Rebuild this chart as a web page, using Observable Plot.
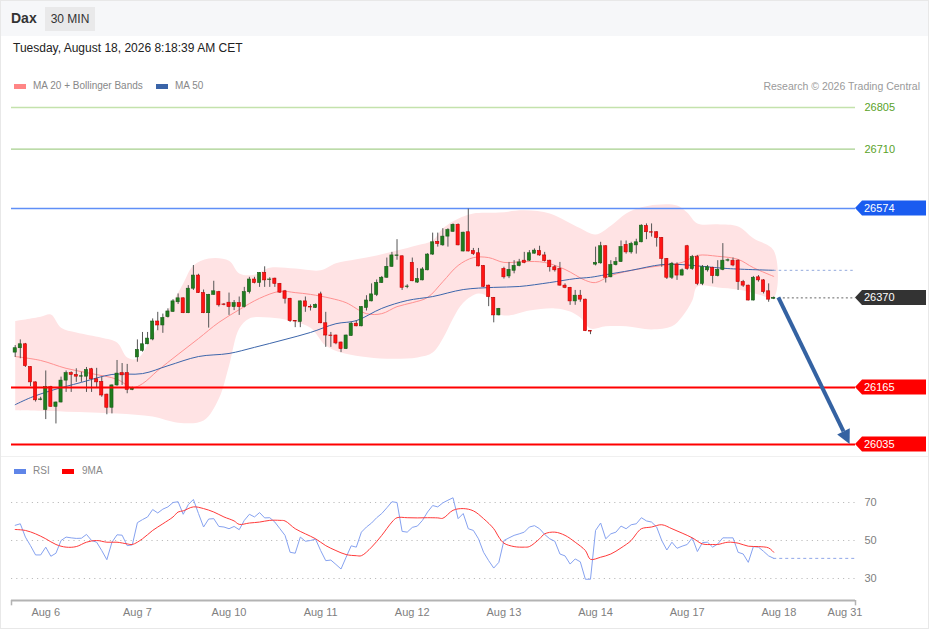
<!DOCTYPE html>
<html><head><meta charset="utf-8">
<script src="https://cdn.jsdelivr.net/npm/d3@7"></script>
<script src="https://cdn.jsdelivr.net/npm/@observablehq/plot@0.6"></script>
<style>
body{margin:0;background:#fff;font-family:"Liberation Sans",Arial,sans-serif;}
#wrap{position:relative;width:929px;height:629px;overflow:hidden;background:#fff;}
#wrap::after{content:"";position:absolute;left:0;top:0;right:0;bottom:0;border:1px solid #e8e8e8;pointer-events:none;}
#hdr{position:absolute;left:0;top:0;width:929px;height:36px;background:#f6f7f9;}
#dax{position:absolute;left:11px;top:10px;font-size:14px;font-weight:bold;color:#333;}
#tf{position:absolute;left:45px;top:7px;width:50px;height:24px;line-height:24px;text-align:center;background:#e9e9ea;font-size:12px;color:#333;}
#date{position:absolute;left:13px;top:41px;font-size:12px;color:#222;}
.leg{position:absolute;font-size:10px;color:#888;white-space:nowrap;}
.sw{position:absolute;width:12px;height:5px;}
#credit{position:absolute;right:9px;top:80px;font-size:10.5px;color:#9a9a9a;}
#sep{position:absolute;left:0;top:456px;width:929px;height:1px;background:#f0f0f0;}
#main{position:absolute;left:0;top:95px;}
#rsi{position:absolute;left:0;top:480px;}
</style></head>
<body>
<div id="wrap">
  <div id="hdr"></div>
  <div id="dax">Dax</div>
  <div id="tf">30 MIN</div>
  <div id="date">Tuesday, August 18, 2026 8:18:39 AM CET</div>
  <div class="sw" style="left:14px;top:84px;background:#ff8585;"></div>
  <div class="leg" style="left:33px;top:80px;">MA 20 + Bollinger Bands</div>
  <div class="sw" style="left:156px;top:84px;background:#3a64a8;"></div>
  <div class="leg" style="left:175px;top:80px;">MA 50</div>
  <div id="credit">Research © 2026 Trading Central</div>
  <div id="sep"></div>
  <div class="sw" style="left:14px;top:469px;background:#5f85e8;"></div>
  <div class="leg" style="left:33px;top:465px;">RSI</div>
  <div class="sw" style="left:62px;top:469px;background:#ff0000;"></div>
  <div class="leg" style="left:82px;top:465px;">9MA</div>
  <div id="main"></div>
  <div id="rsi"></div>
</div>
<script>
// ---------- candles (30 min), index 0..149 ----------
const opens = [26245,26255,26264,26212,26177,26137,26114,26166,26121,26131,26181,26198,26194,26190,26190,26207,26184,26178,26149,26119,
26170,26198,26198,26160,26234,26249,26264,26275,26316,26307,26326,26338,26360,26369,26335,26391,26421,26381,26335,26377,
26383,26355,26359,26349,26358,26349,26383,26412,26404,26427,26411,26414,26402,26385,26368,26317,26315,26362,26349,26347,
26378,26312,26284,26284,26268,26253,26283,26311,26305,26347,26362,26377,26404,26416,26441,26466,26465,26395,26450,26405,
26410,26433,26469,26498,26490,26510,26521,26537,26476,26520,26477,26472,26443,26398,26370,26330,26436,26419,26432,26443,
26455,26455,26471,26477,26467,26455,26440,26436,26398,26393,26362,26375,26366,26294,26446,26449,26488,26417,26445,26452,
26491,26474,26490,26497,26534,26520,26520,26507,26459,26416,26446,26421,26488,26436,26463,26402,26433,26438,26420,26434,
26455,26455,26455,26406,26398,26364,26417,26410,26385,26368];
const highs = [26261,26274,26266,26213,26178,26143,26203,26168,26132,26189,26203,26201,26208,26200,26211,26209,26209,26189,26150,26171,
26227,26220,26218,26166,26274,26291,26291,26322,26337,26333,26345,26366,26379,26370,26398,26444,26424,26388,26378,26408,
26385,26357,26381,26364,26372,26394,26417,26417,26428,26441,26416,26415,26403,26387,26369,26318,26363,26372,26354,26356,
26383,26337,26291,26285,26269,26285,26315,26318,26350,26375,26402,26411,26419,26461,26474,26503,26466,26400,26461,26437,
26439,26471,26518,26518,26528,26528,26539,26539,26520,26573,26483,26483,26444,26399,26371,26346,26440,26451,26455,26458,
26474,26478,26482,26488,26474,26456,26444,26451,26402,26394,26387,26387,26367,26295,26486,26497,26489,26455,26462,26500,
26500,26497,26504,26537,26539,26539,26521,26508,26460,26451,26450,26436,26490,26467,26467,26444,26444,26440,26455,26494,
26459,26461,26457,26410,26399,26419,26421,26412,26402,26372];
const lows = [26234,26231,26211,26167,26132,26135,26092,26120,26082,26130,26154,26154,26177,26177,26154,26154,26165,26143,26103,26105,
26168,26170,26151,26158,26223,26246,26263,26272,26295,26289,26324,26337,26355,26334,26334,26387,26380,26334,26301,26376,
26349,26352,26330,26341,26330,26347,26379,26402,26394,26394,26394,26394,26380,26356,26314,26302,26302,26337,26340,26346,
26311,26257,26257,26263,26245,26252,26282,26304,26304,26340,26361,26373,26403,26415,26440,26456,26387,26391,26407,26403,
26409,26432,26467,26486,26488,26486,26520,26489,26475,26475,26467,26441,26394,26350,26313,26329,26413,26414,26425,26441,
26448,26453,26470,26465,26452,26429,26429,26397,26391,26353,26353,26360,26293,26286,26443,26447,26404,26416,26443,26451,
26470,26470,26470,26496,26503,26509,26486,26440,26412,26412,26410,26420,26433,26433,26398,26398,26429,26402,26418,26432,
26452,26441,26387,26394,26363,26363,26406,26379,26360,26366];
const closes = [26255,26264,26214,26177,26136,26138,26166,26121,26131,26181,26198,26194,26190,26191,26205,26184,26177,26147,26119,26170,
26197,26193,26160,26163,26251,26264,26277,26316,26307,26324,26339,26362,26369,26335,26391,26421,26381,26335,26377,26385,
26353,26354,26349,26358,26349,26383,26412,26404,26427,26410,26412,26402,26382,26368,26317,26316,26362,26350,26348,26354,
26312,26284,26283,26266,26253,26284,26311,26305,26349,26364,26378,26404,26416,26441,26467,26467,26393,26396,26408,26413,
26435,26469,26497,26493,26510,26525,26537,26490,26519,26476,26470,26442,26395,26372,26330,26345,26417,26434,26443,26451,
26450,26472,26478,26467,26454,26440,26433,26398,26393,26362,26375,26366,26294,26293,26450,26488,26416,26445,26452,26486,
26474,26493,26497,26535,26520,26519,26507,26459,26416,26448,26421,26433,26436,26463,26402,26440,26440,26420,26434,26455,
26456,26444,26406,26398,26364,26416,26410,26383,26366,26370];

// ---------- MA 20 + Bollinger Bands, MA 50 (read at sample candles) ----------
const upIdx = [0,5,7,9,12,17,20,22,24,27,30,33,35,38,42,44,47,50,55,60,63,67,71,75,79,82,84,87,90,95,100,105,108,111,114,117,120,123,126,130,132,134,138,142,145,149];
const upVal = [26317,26327,26332,26302,26291,26279,26268,26234,26231,26284,26341,26403,26444,26460,26455,26426,26423,26439,26437,26433,26449,26458,26467,26478,26490,26501,26529,26551,26563,26565,26570,26563,26547,26529,26515,26535,26563,26577,26583,26581,26565,26540,26538,26533,26506,26478];
const loIdx = [0,10,20,27,32,37,40,42,44,46,50,54,58,61,64,68,73,79,82,84,86,88,91,93,95,97,101,106,109,111,113,116,120,125,129,131,133,134,138,142,146,149];
const loVal = [26113,26110,26106,26099,26085,26090,26140,26215,26300,26323,26325,26318,26302,26261,26245,26236,26231,26234,26245,26277,26323,26359,26380,26371,26334,26330,26341,26346,26339,26325,26300,26305,26305,26298,26305,26327,26364,26396,26394,26389,26378,26371];
const m20Idx = [0,5,10,15,20,23,25,28,32,36,40,44,48,52,55,58,62,65,69,72,75,78,81,84,87,90,93,96,100,104,108,112,114,117,122,127,131,134,138,142,145,149];
const m20Val = [26236,26227,26209,26197,26184,26165,26174,26204,26241,26277,26314,26343,26369,26385,26382,26378,26369,26359,26334,26334,26350,26359,26371,26407,26444,26462,26462,26451,26453,26451,26435,26410,26405,26421,26435,26444,26451,26467,26465,26458,26439,26419];
const m50Idx = [0,3,7,13,19,25,30,36,42,47,53,58,63,67,72,77,82,88,94,99,105,110,113,116,121,127,131,135,140,149];
const m50Val = [26126,26142,26158,26177,26195,26197,26215,26236,26243,26257,26275,26291,26311,26318,26346,26364,26373,26389,26394,26396,26405,26414,26417,26423,26433,26446,26446,26442,26437,26433];

// ---------- levels ----------
const greenLevels = [26805, 26710];
const boxLevels = [26574, 26370, 26165, 26035];
const boxColors = ["#1a5cf0", "#333333", "#ff0000", "#ff0000"];
const lastPrice = 26370;
const arrowFrom = {i: 150, p: 26370};
const arrowTo = {i: 164, p: 26035};

// ---------- RSI + 9MA ----------
const rsi = [58.0,58.8,51.8,47.3,42.4,42.4,46.5,41.7,43.3,50.0,
51.8,51.4,51.1,51.2,53.2,50.0,49.1,44.7,39.9,49.1,
53.0,52.8,47.3,47.7,59.4,61.0,62.4,66.3,64.5,66.5,
67.7,70.0,70.4,63.8,68.9,71.6,64.2,57.1,61.3,61.5,
57.4,57.1,56.2,57.4,55.7,60.6,63.8,62.4,64.7,61.9,
62.0,59.7,56.2,52.7,43.8,43.3,51.8,49.6,50.0,50.7,
44.7,39.4,39.7,37.4,35.0,41.2,47.2,46.5,54.4,57.1,
59.2,62.0,64.2,67.2,70.4,70.0,54.8,54.4,56.9,57.6,
60.6,65.0,68.4,67.7,69.8,71.2,72.5,61.5,64.2,56.2,
55.3,50.9,43.8,39.4,35.5,38.5,50.0,51.4,52.7,53.5,
54.4,57.1,57.8,56.2,53.2,50.9,49.6,42.9,41.9,37.6,
40.3,38.8,29.6,29.6,55.3,59.2,50.9,53.5,54.4,57.6,
56.2,58.3,58.8,62.0,60.3,59.7,57.1,50.0,45.0,49.1,
45.9,47.0,47.9,51.4,44.2,48.9,49.1,46.5,48.2,51.4,
51.4,51.4,43.8,42.9,38.5,46.8,46.5,44.3,41.9,40.6];
const ma9Idx = [0,2,4,6,8,10,12,14,16,18,20,22,23,25,27,29,31,32,33,35,37,39,41,43,44,46,48,50,52,53,55,57,59,61,63,65,67,68,70,72,74,75,77,79,81,83,84,86,88,90,92,94,95,96,98,100,101,103,104,106,108,110,112,113,115,117,119,121,122,123,125,127,129,131,133,135,137,138,140,142,144,146,148,149];
const ma9Val = [55.8,55.3,53.5,50.9,47.9,46.5,46.8,49.1,50.0,49.1,49.1,48.2,47.9,50.9,55.3,58.8,62.4,65.0,65.6,67.7,66.8,65.0,62.4,60.3,58.5,59.2,59.7,60.6,60.6,60.3,56.2,53.5,50.9,47.3,44.7,42.6,42.0,42.0,46.5,52.7,59.7,62.0,62.0,61.9,62.0,61.9,61.7,65.9,66.8,65.6,61.5,56.2,51.8,48.6,46.8,46.5,46.8,50.9,53.5,54.4,52.7,49.1,44.7,40.1,41.2,42.9,46.1,50.0,53.5,56.2,57.1,58.3,56.2,53.9,51.4,48.2,47.9,47.9,49.1,48.6,47.0,46.8,46.1,43.8];
const rsiGrid = [70, 50, 30];

// ---------- x axis ----------
const tickIdx = [6, 24, 42, 60, 78, 96, 114, 132, 150, 163];
const tickLabels = ["Aug 6","Aug 7","Aug 10","Aug 11","Aug 12","Aug 13","Aug 14","Aug 17","Aug 18","Aug 31"];

// ---------- build tables ----------
const xDomain = [-0.73, 165.06];
const priceDomain = [26009.9, 26832.4];
const rsiDomain = [18.42, 76.32];
const candles = opens.map((o, i) => ({i, open: o, high: highs[i], low: lows[i], close: closes[i], up: closes[i] >= o}));
const bandPoly = upIdx.map((i, k) => ({i, v: upVal[k]}))
  .concat(loIdx.map((i, k) => ({i, v: loVal[k]})).reverse());
const ma20 = m20Idx.map((i, k) => ({i, v: m20Val[k]}));
const ma50 = m50Idx.map((i, k) => ({i, v: m50Val[k]}));
const rsiData = rsi.map((v, i) => ({i, v}));
const ma9 = ma9Idx.map((i, k) => ({i, v: ma9Val[k]}));
const ticks = tickIdx.map((x, k) => ({x, label: tickLabels[k]}));
const lastIdx = candles.length - 1;
const font = '"Liberation Sans", Arial, sans-serif';

function boxLabels(index, scales, values, dims) {
  const g = d3.create("svg:g");
  const xr = dims.width - dims.marginRight;
  boxLevels.forEach((v, k) => {
    const y = scales.y(v);
    g.append("path")
      .attr("d", `M${xr},${y}L${xr + 7},${y - 7.5}H${xr + 71}V${y + 7.5}H${xr + 7}Z`)
      .attr("fill", boxColors[k]);
    g.append("text").attr("x", xr + 9).attr("y", y).attr("dy", "0.35em")
      .attr("text-anchor", "start")
      .attr("fill", "#fff").attr("font-size", 11).attr("font-family", font).text(v);
  });
  return g.node();
}

function arrowMark(index, scales) {
  const x1 = scales.x(arrowFrom.i), y1 = scales.y(arrowFrom.p);
  const x2 = scales.x(arrowTo.i), y2 = scales.y(arrowTo.p);
  const a = Math.atan2(y2 - y1, x2 - x1);
  const L = 14, W = 7;
  const bx = x2 - L * Math.cos(a), by = y2 - L * Math.sin(a);
  const g = d3.create("svg:g");
  g.append("line").attr("x1", x1).attr("y1", y1).attr("x2", bx).attr("y2", by)
    .attr("stroke", "#3462a2").attr("stroke-width", 4);
  g.append("path")
    .attr("d", `M${x2},${y2}L${bx + W * Math.sin(a)},${by - W * Math.cos(a)}L${bx - W * Math.sin(a)},${by + W * Math.cos(a)}Z`)
    .attr("fill", "#3462a2");
  return g.node();
}

const mainPlot = Plot.plot({
  width: 929, height: 360,
  marginLeft: 11, marginRight: 74, marginTop: 0, marginBottom: 0,
  x: {domain: xDomain, axis: null},
  y: {domain: priceDomain, axis: null},
  style: {fontFamily: font, fontSize: "11px", background: "transparent", overflow: "visible"},
  marks: [
    Plot.line(bandPoly, {x: "i", y: "v", fill: "#ffe3e4", stroke: "none", curve: "catmull-rom"}),
    Plot.ruleY([greenLevels[0]], {stroke: "#c4e2ac", strokeWidth: 1.6}),
    Plot.ruleY([greenLevels[1]], {stroke: "#a6cf8c", strokeWidth: 1.2}),
    Plot.ruleY([boxLevels[0]], {stroke: "#5f8ff7", strokeWidth: 1.5}),
    Plot.line(ma20, {x: "i", y: "v", stroke: "#ff9191", strokeWidth: 1, curve: "catmull-rom"}),
    Plot.line(ma50, {x: "i", y: "v", stroke: "#3d66ab", strokeWidth: 1, curve: "catmull-rom"}),
    Plot.ruleY([m50Val[m50Val.length - 1]], {x1: lastIdx, x2: xDomain[1], stroke: "#92a9dc", strokeDasharray: "2.5,3"}),
    Plot.ruleY([lastPrice], {x1: lastIdx + 1, x2: xDomain[1], stroke: "#666", strokeDasharray: "2,2.5"}),
    Plot.ruleX(candles, {x: "i", y1: "low", y2: "high", stroke: "#555", strokeWidth: 1}),
    Plot.rect(candles, {
      x1: d => d.i - 0.31, x2: d => d.i + 0.31,
      y1: d => Math.min(d.open, d.close), y2: d => Math.max(d.open, d.close),
      fill: d => d.up ? "#1f7d1f" : "#ff1414",
      stroke: d => d.up ? "#175a17" : "#c00000", strokeWidth: 0.6
    }),
    Plot.ruleY([boxLevels[2], boxLevels[3]], {stroke: "#ff0000", strokeWidth: 2}),
    Plot.text(greenLevels, {x: xDomain[1], y: d => d, text: d => String(d), dx: 9, textAnchor: "start", fill: "#5aa22a", fontSize: 11}),
    boxLabels,
    arrowMark
  ]
});
document.getElementById("main").appendChild(mainPlot);

const rsiPlot = Plot.plot({
  width: 929, height: 145,
  marginLeft: 11, marginRight: 74, marginTop: 10, marginBottom: 25,
  x: {domain: xDomain, axis: null},
  y: {domain: rsiDomain, axis: null},
  style: {fontFamily: font, fontSize: "11px", background: "transparent", overflow: "visible"},
  marks: [
    Plot.ruleY(rsiGrid, {stroke: "#bdbdbd", strokeDasharray: "1.2,4"}),
    Plot.line(rsiData, {x: "i", y: "v", stroke: "#86a2f0", strokeWidth: 1}),
    Plot.line(ma9, {x: "i", y: "v", stroke: "#ff3a3a", strokeWidth: 1, curve: "catmull-rom"}),
    Plot.ruleY([rsi[rsi.length - 1]], {x1: lastIdx, x2: xDomain[1], stroke: "#8fa6e8", strokeDasharray: "3,3"}),
    Plot.text(rsiGrid, {x: xDomain[1], y: d => d, text: d => String(d), dx: 9, textAnchor: "start", fill: "#808080", fontSize: 11}),
    Plot.ruleY([rsiDomain[0]], {stroke: "#b3b3b3", strokeWidth: 2}),
    Plot.ruleX(xDomain, {y1: rsiDomain[0], y2: rsiDomain[0] - 2.8, stroke: "#b3b3b3", strokeWidth: 1.5}),
    Plot.text(ticks, {x: "x", y: rsiDomain[0], text: "label", dy: 12, fill: "#808080", fontSize: 11})
  ]
});
document.getElementById("rsi").appendChild(rsiPlot);
</script>
</body></html>
